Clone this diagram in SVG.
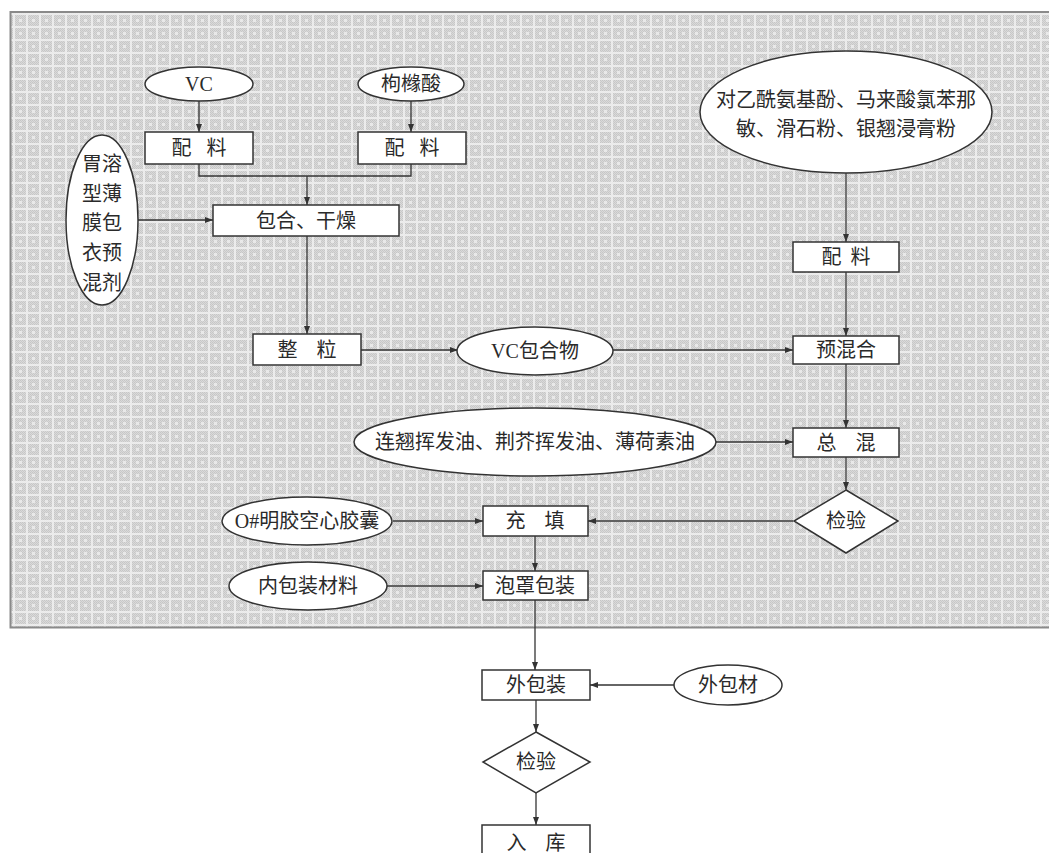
<svg xmlns="http://www.w3.org/2000/svg" width="1049" height="853" viewBox="0 0 1049 853">
<style>
.n{fill:#fff;stroke:#333;stroke-width:1.5}
.t{font-family:"Liberation Serif","Noto Sans CJK SC",serif;font-size:20px;fill:#2a2a2a;text-anchor:middle;dominant-baseline:central}
.c{fill:none;stroke:#333;stroke-width:1.3}
</style>
<defs>
<pattern id="dots" width="2" height="2" patternUnits="userSpaceOnUse">
<rect width="2" height="2" fill="#dadada"/>
<rect x="0" y="0" width="1" height="1" fill="#c6c6c6"/>
<rect x="1" y="1" width="1" height="1" fill="#c9c9c9"/>
</pattern>
<pattern id="grid" width="13" height="13" patternUnits="userSpaceOnUse">
<path d="M0 1H13M1 0V13" stroke="#f4f4f4" stroke-width="2" fill="none"/>
<path d="M6 6h3v3h-3z" fill="#f0f0f0"/>
</pattern>
<marker id="a" markerWidth="8" markerHeight="6" refX="8" refY="3" orient="auto" markerUnits="userSpaceOnUse">
<path d="M0,0 L8,3 L0,6 z" fill="#333"/>
</marker>
</defs>
<rect width="1049" height="853" fill="#fff"/>
<g id="background">
<rect x="10" y="12" width="1045" height="616" fill="url(#dots)"/>
<rect x="10" y="12" width="1045" height="616" fill="url(#grid)" opacity="0.75"/>
<path d="M1049 12H10.5V627.5H1049" fill="none" stroke="#8a8a8a" stroke-width="2"/>
</g>
<g id="connectors">
<line class="c" x1="199" y1="101" x2="199" y2="132" marker-end="url(#a)"/>
<line class="c" x1="411" y1="101" x2="411" y2="132" marker-end="url(#a)"/>
<polyline class="c" points="199,164 199,176 411,176 411,164"/>
<line class="c" x1="307" y1="176" x2="307" y2="205" marker-end="url(#a)"/>
<line class="c" x1="138" y1="220" x2="213" y2="220" marker-end="url(#a)"/>
<line class="c" x1="307" y1="236" x2="307" y2="334" marker-end="url(#a)"/>
<line class="c" x1="361" y1="350" x2="458" y2="350" marker-end="url(#a)"/>
<line class="c" x1="613" y1="350" x2="793" y2="350" marker-end="url(#a)"/>
<line class="c" x1="846" y1="173" x2="846" y2="242" marker-end="url(#a)"/>
<line class="c" x1="846" y1="272" x2="846" y2="336" marker-end="url(#a)"/>
<line class="c" x1="846" y1="364" x2="846" y2="428" marker-end="url(#a)"/>
<line class="c" x1="715" y1="442" x2="793" y2="442" marker-end="url(#a)"/>
<line class="c" x1="846" y1="457" x2="846" y2="490" marker-end="url(#a)"/>
<line class="c" x1="793" y1="521" x2="588" y2="521" marker-end="url(#a)"/>
<line class="c" x1="393" y1="521" x2="483" y2="521" marker-end="url(#a)"/>
<line class="c" x1="535" y1="536" x2="535" y2="571" marker-end="url(#a)"/>
<line class="c" x1="387" y1="586" x2="483" y2="586" marker-end="url(#a)"/>
<line class="c" x1="535" y1="600" x2="535" y2="670" marker-end="url(#a)"/>
<line class="c" x1="674" y1="685" x2="590" y2="685" marker-end="url(#a)"/>
<line class="c" x1="536" y1="700" x2="536" y2="732" marker-end="url(#a)"/>
<line class="c" x1="536" y1="793" x2="536" y2="825" marker-end="url(#a)"/>
</g>
<g id="vc"><ellipse class="n" cx="199" cy="84" rx="54" ry="17"/><text class="t" x="199" y="84">VC</text></g>
<g id="citric"><ellipse class="n" cx="411" cy="84" rx="53" ry="17"/><text class="t" x="411" y="84">枸橼酸</text></g>
<g id="mix1"><rect class="n" x="145" y="132" width="108" height="32"/><text class="t" x="199" y="148" word-spacing="10">配 料</text></g>
<g id="mix2"><rect class="n" x="358" y="132" width="108" height="32"/><text class="t" x="412" y="148" word-spacing="10">配 料</text></g>
<g id="coating"><ellipse class="n" cx="102" cy="220" rx="36" ry="85"/>
<text class="t" x="102" y="164">胃溶</text><text class="t" x="102" y="194">型薄</text><text class="t" x="102" y="223">膜包</text><text class="t" x="102" y="253">衣预</text><text class="t" x="102" y="283">混剂</text></g>
<g id="inclusion"><rect class="n" x="213" y="205" width="186" height="31"/><text class="t" x="306" y="220.5">包合、干燥</text></g>
<g id="granulate"><rect class="n" x="253" y="334" width="108" height="31"/><text class="t" x="307" y="349.5" word-spacing="14">整 粒</text></g>
<g id="vccomplex"><ellipse class="n" cx="535" cy="351" rx="78" ry="24"/><text class="t" x="535" y="351">VC包合物</text></g>
<g id="apis"><ellipse class="n" cx="846" cy="112" rx="146" ry="61"/><text class="t" x="846" y="100">对乙酰氨基酚、马来酸氯苯那</text><text class="t" x="846" y="129">敏、滑石粉、银翘浸膏粉</text></g>
<g id="mix3"><rect class="n" x="793" y="242" width="106" height="30"/><text class="t" x="846" y="257" word-spacing="4">配 料</text></g>
<g id="premix"><rect class="n" x="793" y="336" width="106" height="28"/><text class="t" x="846" y="350">预混合</text></g>
<g id="oils"><ellipse class="n" cx="535" cy="442" rx="181" ry="34"/><text class="t" x="535" y="442">连翘挥发油、荆芥挥发油、薄荷素油</text></g>
<g id="totalmix"><rect class="n" x="793" y="428" width="106" height="29"/><text class="t" x="846" y="442.5" word-spacing="14">总 混</text></g>
<g id="inspect1"><polygon class="n" points="846,490 898,521 846,553 794,521"/><text class="t" x="846" y="521">检验</text></g>
<g id="capsule"><ellipse class="n" cx="307" cy="521" rx="85" ry="24"/><text class="t" x="307" y="521">O#明胶空心胶囊</text></g>
<g id="fill"><rect class="n" x="483" y="506" width="105" height="30"/><text class="t" x="535" y="521" word-spacing="14">充 填</text></g>
<g id="innerpack"><ellipse class="n" cx="308" cy="586" rx="79" ry="24"/><text class="t" x="308" y="586">内包装材料</text></g>
<g id="blister"><rect class="n" x="483" y="571" width="105" height="29"/><text class="t" x="535" y="585.5">泡罩包装</text></g>
<g id="outerpack"><rect class="n" x="482" y="670" width="108" height="30"/><text class="t" x="536" y="685">外包装</text></g>
<g id="outermat"><ellipse class="n" cx="728" cy="685" rx="54" ry="20"/><text class="t" x="728" y="685">外包材</text></g>
<g id="inspect2"><polygon class="n" points="536,732 590,762 536,793 483,762"/><text class="t" x="536" y="762">检验</text></g>
<g id="store"><rect class="n" x="482" y="825" width="108" height="32"/><text class="t" x="536" y="843" word-spacing="14">入 库</text></g>
</svg>
